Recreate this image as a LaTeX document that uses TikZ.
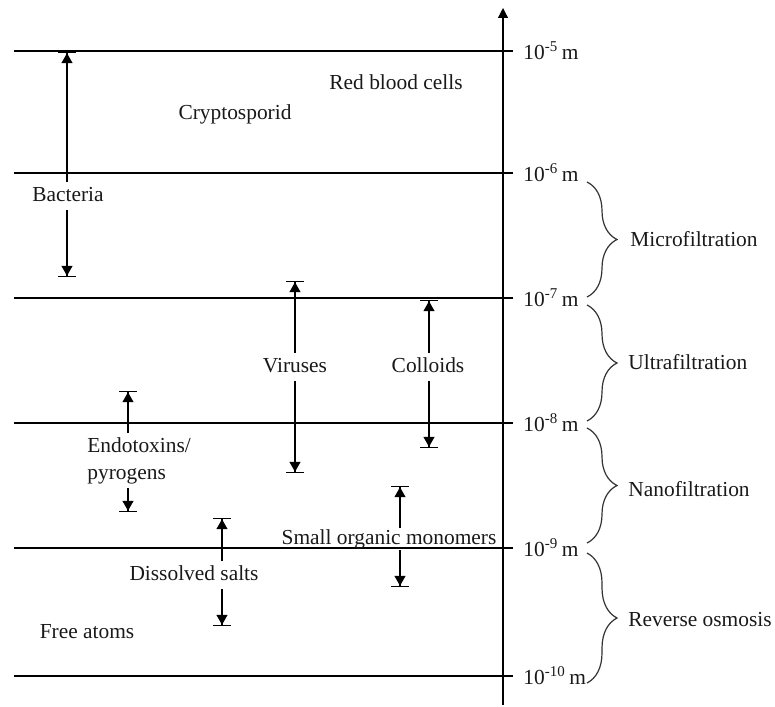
\documentclass[tikz,border=0pt]{standalone}
\usepackage{fontspec}
\setmainfont{Liberation Serif}
\usetikzlibrary{arrows.meta,decorations.pathreplacing}
\begin{document}
\begin{tikzpicture}[x=0.5pt,y=-0.5pt,
  every node/.style={font=\fontsize{10.7}{13.5}\selectfont, text=black!90},
  gridline/.style={line width=0.6pt},
  lbl/.style={inner sep=2pt, text height=7.3pt, text depth=2.3pt},
  tight/.style={inner sep=0.5pt, text height=7.3pt, text depth=2.3pt},
  sizearrow/.style={line width=0.6pt,
    -{Triangle[length=5pt,width=5.5pt,sep=0pt]Bar[width=9pt,line width=0.6pt]}},
  rangebrace/.style={line width=0.6pt, black!80,
    decorate, decoration={brace, amplitude=15pt}},
  tick/.style={anchor=west, inner sep=2pt},
  method/.style={anchor=west, inner sep=0pt}
]
\useasboundingbox (0,0) rectangle (775,706);

% axis
\coordinate (axB) at (503,705);
\coordinate (axT) at (503,8);
\draw[gridline, -{Triangle[length=5pt,width=5pt]}] (axB) -- (axT);

% scale lines and labels
\foreach \y/\e [count=\i] in {51/-5, 173/-6, 298/-7, 423/-8, 548/-9, 676/-10} {
  \draw[gridline] (14,\y) -- (513,\y);
  \node[tick] (t\i) at (519,\y) {10\textsuperscript{\e}\,m};
}

% filtration ranges
\draw[rangebrace] (587,182) -- (587,297);
\draw[rangebrace] (587,305) -- (587,421);
\draw[rangebrace] (587,428) -- (587,543);
\draw[rangebrace] (587,553) -- (587,683);
\node[method] (mf) at (630,239) {Microfiltration};
\node[method] (uf) at (628,362) {Ultrafiltration};
\node[method] (nf) at (628,489) {Nanofiltration};
\node[method] (ro) at (628,620) {Reverse osmosis};

% plain labels
\node (rbc) at (396,82) {Red blood cells};
\node (cry) at (235,114) {Cryptosporid};
\node (fa) at (87,632) {Free atoms};

% Bacteria
\node[lbl] (bact) at (68,196) {Bacteria};
\coordinate (bactT) at (67,52);
\coordinate (bactB) at (67,277);
\draw[sizearrow] (bact.north -| bactT) -- (bactT);
\draw[sizearrow] (bact.south -| bactB) -- (bactB);

% Viruses
\node[lbl] (vir) at (295,367) {Viruses};
\coordinate (virT) at (295,281);
\coordinate (virB) at (295,473);
\draw[sizearrow] (vir.north -| virT) -- (virT);
\draw[sizearrow] (vir.south -| virB) -- (virB);

% Colloids
\node[lbl] (col) at (428,367) {Colloids};
\coordinate (colT) at (429,300);
\coordinate (colB) at (429,448);
\draw[sizearrow] (col.north -| colT) -- (colT);
\draw[sizearrow] (col.south -| colB) -- (colB);

% Endotoxins / pyrogens
\node[anchor=north west, inner sep=2pt, align=left] (endo) at (83,433) {Endotoxins/\\pyrogens};
\coordinate (endoT) at (128,391);
\coordinate (endoB) at (128,512);
\draw[sizearrow] (endo.north -| endoT) -- (endoT);
\draw[sizearrow] (endo.south -| endoB) -- (endoB);

% Dissolved salts
\node[lbl] (ds) at (194,575) {Dissolved salts};
\coordinate (dsT) at (222,518);
\coordinate (dsB) at (222,626);
\draw[sizearrow] (ds.north -| dsT) -- (dsT);
\draw[sizearrow] (ds.south -| dsB) -- (dsB);

% Small organic monomers
\node[tight] (som) at (389,539) {Small organic monomers};
\coordinate (somT) at (400,486);
\coordinate (somB) at (400,587);
\draw[sizearrow] (som.north -| somT) -- (somT);
\draw[sizearrow] (som.south -| somB) -- (somB);
\end{tikzpicture}
\end{document}
